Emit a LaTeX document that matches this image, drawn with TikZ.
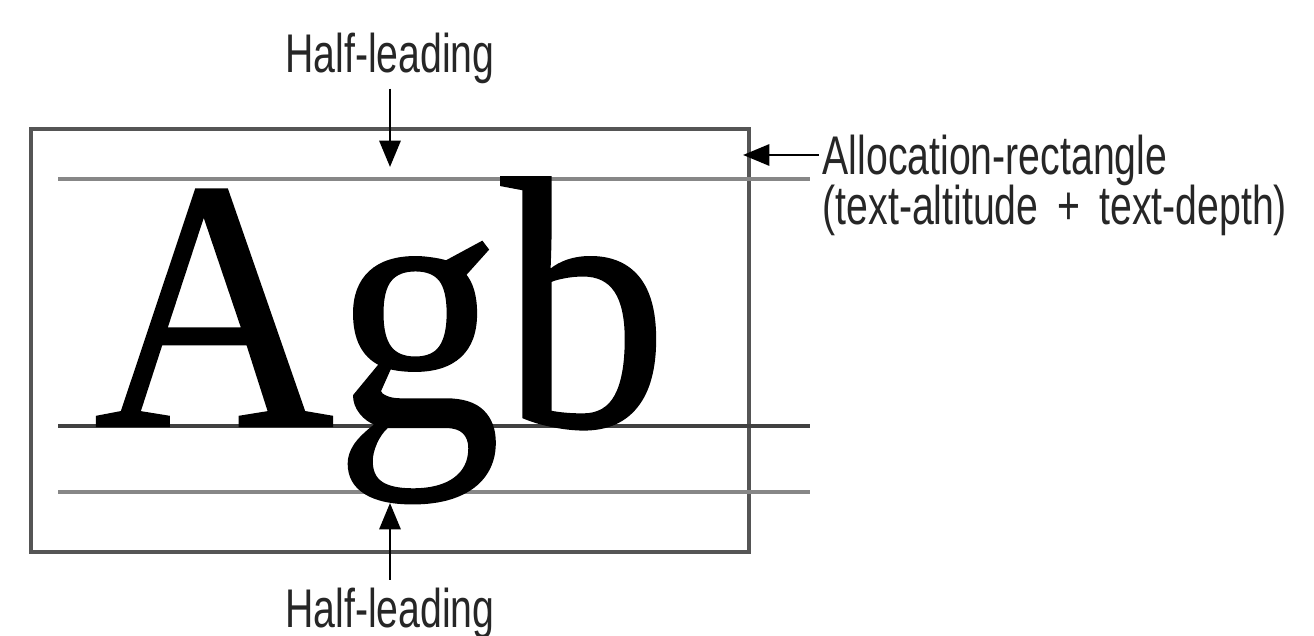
\documentclass[tikz,border=0pt]{standalone}
\usepackage{fontspec}
\setmainfont{Liberation Serif}
\newfontfamily\labelfont[FakeStretch=0.72]{Liberation Sans}
\newfontfamily\glyphfont[FakeStretch=0.93,FakeBold=0.6]{Liberation Serif}
\usetikzlibrary{arrows.meta}
\definecolor{boxgray}{RGB}{85,85,85}
\definecolor{leadgray}{RGB}{135,135,135}
\definecolor{basegray}{RGB}{65,65,65}

\begin{document}
\begin{tikzpicture}[
  lbl/.style={font=\labelfont\fontsize{15.5}{14.2}\selectfont,inner sep=0pt,text=black!85},
  pointer/.style={-{Triangle[length=7.5pt,width=6pt]},line width=0.8pt},
  guide/.style={line width=1.3pt,leadgray}]
\useasboundingbox[fill=white] (0,0) rectangle (13.14,6.35);
\draw[boxgray,line width=1.1pt] (0.31,0.83) rectangle (7.49,5.06);
\coordinate (altL) at (0.58,4.56);  \coordinate (altR) at (8.10,4.56);
\coordinate (baseL) at (0.58,2.09); \coordinate (baseR) at (8.10,2.09);
\coordinate (depL) at (0.58,1.43);  \coordinate (depR) at (8.10,1.43);
\draw[guide] (altL) -- (altR);
\draw[guide] (depL) -- (depR);
\draw[basegray,line width=0.9pt] (baseL) -- (baseR);
\node[anchor=base west,inner sep=0pt,font=\glyphfont\fontsize{102}{102}\selectfont] (agb) at (0.93,2.09) {Agb};
\node[lbl,anchor=base] (halftop) at (3.90,5.62) {Half-leading};
\node[lbl,anchor=base] (halfbot) at (3.90,0.08) {Half-leading};
\node[lbl,anchor=base west] (alloc) at (8.22,4.60) {Allocation-rectangle};
\node[lbl,anchor=base west] (allocdepth) at (8.22,4.10) {(text-altitude\hspace{0.35em}+\hspace{0.35em}text-depth)};
\coordinate (alttip) at (3.90,4.68);
\coordinate (deptip) at (3.90,1.32);
\coordinate (boxR) at (7.43,4.80);
\draw[pointer] ([yshift=-1pt]halftop.south) -- (alttip);
\draw[pointer] ([yshift=2pt]halfbot.north) -- (deptip);
\draw[pointer] ([xshift=-1pt]alloc.west |- boxR) -- (boxR);
\end{tikzpicture}
\end{document}
